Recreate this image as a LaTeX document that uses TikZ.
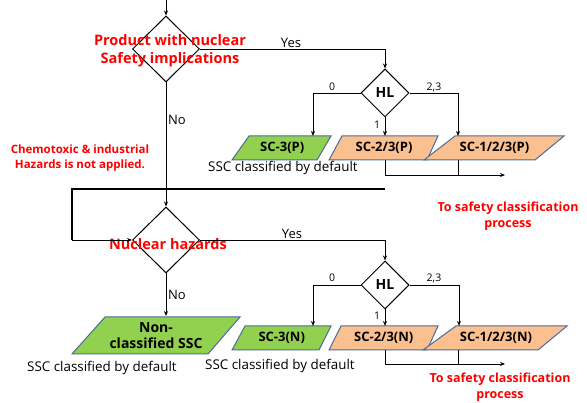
\documentclass[tikz,border=0pt]{standalone}
\usepackage{fontspec}
\setmainfont{Open Sans}
\usetikzlibrary{shapes.geometric,arrows.meta}
\definecolor{lgreen}{HTML}{92D050}
\definecolor{peach}{HTML}{FAC090}
\definecolor{pborder}{HTML}{4A6B9A}
\definecolor{redtxt}{HTML}{FF0000}
\newcommand\pgm[8]{% name, blx, tlx, trx, brx, ytop, ybot, fill
  \draw[pbox, fill=#8] (#2,#7) -- (#3,#6) -- (#4,#6) -- (#5,#7) -- cycle;
  \coordinate (#1) at ({(#2+#3+#4+#5)/4},{(#6+#7)/2});}
\begin{document}
\begin{tikzpicture}[x=1pt,y=-1pt,
  dec/.style={diamond, draw, line width=1pt, inner sep=0pt},
  bigdec/.style={dec, minimum width=67pt, minimum height=66pt},
  hldec/.style={dec, minimum width=48pt, minimum height=48pt, font=\bfseries\fontsize{14}{14}\selectfont},
  pbox/.style={draw=pborder, line width=1pt},
  boxtxt/.style={font=\bfseries\fontsize{13}{13}\selectfont, align=center, inner sep=0pt},
  redbig/.style={text=redtxt, font=\bfseries\fontsize{14.5}{18}\selectfont, align=center, inner sep=0pt},
  redsmall/.style={text=redtxt, font=\bfseries\fontsize{11.5}{15}\selectfont, align=center, inner sep=0pt},
  redmid/.style={text=redtxt, font=\bfseries\fontsize{12.5}{16}\selectfont, align=center, inner sep=0pt},
  lbl/.style={font=\fontsize{13}{13}\selectfont, inner sep=0pt},
  slbl/.style={font=\fontsize{10.5}{10.5}\selectfont, inner sep=0pt},
  note/.style={font=\fontsize{13.4}{13.4}\selectfont, inner sep=0pt},
  conn/.style={line width=0.8pt},
  arr/.style={conn, -{Stealth[length=5pt,width=4pt]}},
]
\useasboundingbox (0,0) rectangle (587,403);

% ---- top part
\coordinate (start) at (166,0);
\node[bigdec] (d1) at (166,49) {};
\node[redbig] (t1) at (170,51) {Product with nuclear\\Safety implications};
\draw[arr] (start) -- (d1.north);

\node[hldec] (hl1) at (385,93) {HL};
\draw[arr] (d1.east) -| (hl1.north);
\node[lbl] (yes1) at (291,43) {Yes};

\pgm{sc3p}{232}{249}{331}{317}{136}{160}{lgreen}
\pgm{sc23p}{329}{342}{438}{427}{136}{160}{peach}
\pgm{sc123p}{424}{455}{564}{535}{136}{160}{peach}
\node[boxtxt] (sc3pt) at (sc3p) {SC-3(P)};
\node[boxtxt] (sc23pt) at (sc23p) {SC-2/3(P)};
\node[boxtxt] (sc123pt) at (sc123p) {SC-1/2/3(P)};
\coordinate (in3p) at (313,136);
\coordinate (in23p) at (385,136);
\coordinate (in123p) at (458,136);
\draw[arr] (hl1.west) -| (in3p);
\draw[arr] (hl1.south) -- (in23p);
\draw[arr] (hl1.east) -| (in123p);
\node[slbl] (z1) at (332,87) {0};
\node[slbl] (o1) at (377,125) {1};
\node[slbl] (tt1) at (434,87) {2,3};
\node[note, anchor=west] (def1) at (208,168) {SSC classified by default};

\coordinate (out23p) at (385,160);
\coordinate (out123p) at (458,160);
\coordinate (turn1) at (385,175);
\coordinate (tip1) at (505,175);
\draw[arr] (out23p) -- (turn1) -- (tip1);
\draw[conn] (out123p) -- (out123p |- tip1);

% ---- loop and middle
\node[redsmall] (chem) at (80,158) {Chemotoxic \& industrial\\Hazards is not applied.};
\node[lbl] (no1) at (177,120) {No};

\node[bigdec] (d2) at (166,240) {};
\node[redbig] (t2) at (168,244) {Nuclear hazards};
\draw[arr] (d1.south) -- (d2.north);
\coordinate (loopR) at (385,189);
\coordinate (loopL) at (72,189);
\draw[line width=1.6pt] (loopR) -- (loopL) -- (loopL |- d2.west);
\draw[arr] (loopL |- d2.west) -- (d2.west);

\node[redmid] (proc1) at (508,216) {To safety classification\\process};

% ---- bottom part
\node[hldec] (hl2) at (385,285) {HL};
\draw[arr] (d2.east) -| (hl2.north);
\node[lbl] (yes2) at (292,234) {Yes};

\pgm{ncs}{72}{105}{240}{208}{317}{354}{lgreen}
\node[boxtxt, font=\bfseries\fontsize{14}{16}\selectfont] (ncst) at (156,336) {Non-\\classified SSC};
\draw[arr] (d2.south) -- (166,316);
\node[lbl] (no2) at (177,295) {No};
\node[note, anchor=west] (def0) at (27,368) {SSC classified by default};

\pgm{sc3n}{232}{245}{331}{319}{326}{350}{lgreen}
\pgm{sc23n}{329}{341}{438}{427}{326}{350}{peach}
\pgm{sc123n}{423}{456}{567}{538}{326}{350}{peach}
\node[boxtxt] (sc3nt) at (sc3n) {SC-3(N)};
\node[boxtxt] (sc23nt) at (sc23n) {SC-2/3(N)};
\node[boxtxt] (sc123nt) at (sc123n) {SC-1/2/3(N)};
\coordinate (in3n) at (313,326);
\coordinate (in23n) at (385,326);
\coordinate (in123n) at (459,326);
\draw[arr] (hl2.west) -| (in3n);
\draw[arr] (hl2.south) -- (in23n);
\draw[arr] (hl2.east) -| (in123n);
\node[slbl] (z2) at (332,278) {0};
\node[slbl] (o2) at (377,316) {1};
\node[slbl] (tt2) at (434,278) {2,3};
\node[note, anchor=west] (def2) at (205,366) {SSC classified by default};

\coordinate (out23n) at (385,350);
\coordinate (out123n) at (458,350);
\coordinate (turn2) at (385,364);
\coordinate (tip2) at (505,364);
\draw[arr] (out23n) -- (turn2) -- (tip2);
\draw[conn] (out123n) -- (out123n |- tip2);

\node[redmid] (proc2) at (500,387) {To safety classification\\process};
\end{tikzpicture}
\end{document}
